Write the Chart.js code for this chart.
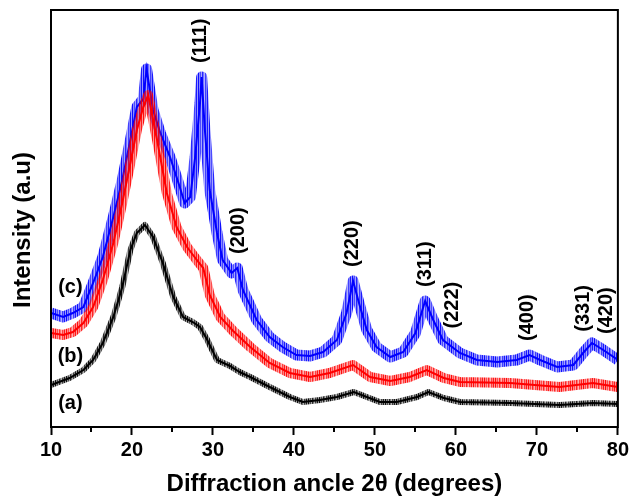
<!DOCTYPE html>
<html>
<head>
<meta charset="utf-8">
<script src="https://cdn.jsdelivr.net/npm/chart.js@4.4.1/dist/chart.umd.min.js"></script>
<style>
  html, body { margin: 0; background: #fff; }
  #wrap { width: 632px; height: 503px; }
</style>
</head>
<body>
<div id="wrap"><canvas id="xrd"></canvas></div>
<script>
// XRD patterns, intensity in arbitrary units (0 = baseline of the frame)
var angleA = [10, 12.3, 14, 15.2, 16.4, 17.7, 18.8, 19.8, 20.6, 21.6, 22.6, 23.8, 25.1, 26.3, 27.5, 28.4, 29.3, 30.5, 32.1, 33.3, 34.6, 37, 39.5, 41.1, 43.2, 45.3, 47.4, 49, 50.6, 52.7, 55.2, 56.6, 58.5, 60.5, 66.7, 72.8, 76.9, 80];
var countsA = [42, 49, 57, 67, 84, 110, 140, 177, 194, 202, 190, 164, 130, 110, 105, 100, 87, 67, 61, 55, 50, 40, 30, 25, 27, 30, 35, 30, 25, 25, 30, 35, 29, 25, 24, 22, 24, 23];

var angleB = [10, 11.5, 12.7, 14, 15.2, 16.4, 17.7, 18.8, 19.8, 20.6, 21.4, 22, 23.1, 24.3, 25.5, 26.8, 28, 28.8, 29.6, 30.9, 32.5, 34.6, 37, 39.5, 42, 44.4, 47.3, 49.4, 51.9, 54.3, 56.4, 58.5, 60.5, 66.7, 72.8, 76.9, 80];
var countsB = [94, 92, 95, 104, 120, 147, 184, 224, 264, 297, 320, 332, 287, 234, 200, 180, 167, 159, 132, 110, 96, 80, 64, 54, 50, 54, 62, 50, 46, 50, 57, 49, 45, 44, 40, 44, 40];

var angleC = [10, 11.5, 12.7, 14, 15.2, 16.4, 17.7, 18.8, 19.8, 20.6, 21.4, 21.8, 22.6, 23.5, 24.7, 25.9, 26.5, 27.2, 27.8, 28.4, 28.6, 29, 29.6, 30.5, 31.2, 32.3, 33, 33.7, 35.4, 37, 38.6, 40.3, 42, 43.6, 45.3, 46.5, 47.3, 48.1, 49, 50.2, 51.9, 53.5, 55, 56.2, 57.2, 58.4, 60.5, 62.6, 65.1, 67.5, 69.1, 70.4, 72.5, 74.5, 75.7, 76.8, 78.2, 80];
var countsC = [114, 110, 114, 120, 144, 170, 210, 247, 287, 320, 328, 358, 317, 294, 270, 240, 224, 230, 270, 324, 350, 297, 237, 194, 167, 154, 159, 137, 107, 90, 80, 72, 71, 75, 87, 114, 146, 122, 97, 80, 70, 75, 94, 126, 107, 87, 74, 67, 65, 67, 72, 67, 60, 62, 74, 84, 77, 67];

var peakAngles = [28.5, 33.1, 47.2, 56.2, 59.6, 68.8, 75.7, 78.6];
var peakLabels = ['(111)', '(200)', '(220)', '(311)', '(222)', '(400)', '(331)', '(420)'];

var FONT = "'Liberation Sans', Arial, sans-serif";

function toPoints(xs, ys) {
    return xs.map(function (x, i) { return { x: x, y: ys[i] }; });
}

// uneven vertical stripes so the thick band reads like a noisy trace
var STRIPES = [0.95, 0.45, 0.7, 0.35, 0.85, 0.55, 0.3, 0.75, 0.5, 0.9, 0.4];
function hatch(r, g, b) {
    var c = document.createElement('canvas');
    c.width = STRIPES.length; c.height = 1;
    var g2 = c.getContext('2d');
    STRIPES.forEach(function (a, i) {
        g2.fillStyle = 'rgba(' + r + ',' + g + ',' + b + ',' + a + ')';
        g2.fillRect(i, 0, 1, 1);
    });
    return g2.createPattern(c, 'repeat');
}

function band(label, xs, ys, r, g, b, width, order) {
    return {
        label: label,
        data: toPoints(xs, ys),
        borderColor: hatch(r, g, b),
        borderWidth: width,
        borderJoinStyle: 'round',
        tension: 0,
        pointRadius: 0,
        order: order
    };
}

function core(label, xs, ys, color, order) {
    return {
        label: label,
        data: toPoints(xs, ys),
        borderColor: color,
        borderWidth: 2,
        tension: 0,
        pointRadius: 0,
        order: order
    };
}

// value of a series between sampled angles
function valueAt(xs, ys, x) {
    for (var i = 1; i < xs.length; i++) {
        if (x <= xs[i]) {
            var t = (x - xs[i - 1]) / (xs[i] - xs[i - 1]);
            return ys[i - 1] + t * (ys[i] - ys[i - 1]);
        }
    }
    return ys[ys.length - 1];
}

function maxNear(xs, ys, x, w) {
    var m = Math.max(valueAt(xs, ys, x - w), valueAt(xs, ys, x + w));
    xs.forEach(function (a, i) { if (a >= x - w && a <= x + w) m = Math.max(m, ys[i]); });
    return m;
}

var decorations = {
    id: 'decorations',
    afterDraw: function (chart) {
        var ctx = chart.ctx, area = chart.chartArea;
        var xs = chart.scales.x, ys = chart.scales.y;
        ctx.save();
        // frame
        ctx.strokeStyle = '#000';
        ctx.lineWidth = 2;
        ctx.strokeRect(area.left, area.top, area.right - area.left, area.bottom - area.top);
        // minor ticks
        for (var m = 15; m < 80; m += 10) {
            var px = Math.round(xs.getPixelForValue(m));
            ctx.beginPath();
            ctx.moveTo(px, area.bottom);
            ctx.lineTo(px, area.bottom + 5);
            ctx.stroke();
        }
        ctx.fillStyle = '#000';
        // y axis title, sitting a little below the middle of the frame
        ctx.font = 'bold 24px ' + FONT;
        ctx.textAlign = 'center';
        ctx.textBaseline = 'middle';
        ctx.save();
        ctx.translate(23, 230);
        ctx.rotate(-Math.PI / 2);
        ctx.fillText('Intensity (a.u)', 0, 0);
        ctx.restore();
        // reflection indices above the (c) trace
        ctx.font = 'bold 20px ' + FONT;
        ctx.textAlign = 'left';
        peakAngles.forEach(function (a, i) {
            var top = maxNear(angleC, countsC, a, 0.8);
            var x = xs.getPixelForValue(a);
            var y = ys.getPixelForValue(top) - 14;
            ctx.save();
            ctx.translate(x, y);
            ctx.rotate(-Math.PI / 2);
            ctx.fillText(peakLabels[i], 0, 0);
            ctx.restore();
        });
        // curve tags
        ctx.textAlign = 'center';
        var tx = xs.getPixelForValue(12.4);
        ctx.fillText('(c)', tx, ys.getPixelForValue(valueAt(angleC, countsC, 12.4)) - 27);
        ctx.fillText('(b)', tx, ys.getPixelForValue(valueAt(angleB, countsB, 12.4)) + 24);
        ctx.fillText('(a)', tx, ys.getPixelForValue(valueAt(angleA, countsA, 12.4)) + 26);
        ctx.restore();
    }
};

new Chart(document.getElementById('xrd'), {
    type: 'line',
    data: {
        datasets: [
            band('(c) band', angleC, countsC, 0, 0, 255, 11, 6),
            core('(c)', angleC, countsC, '#0000ff', 5),
            band('(b) band', angleB, countsB, 255, 0, 0, 10, 4),
            core('(b)', angleB, countsB, '#ff0000', 3),
            band('(a) band', angleA, countsA, 0, 0, 0, 6, 2),
            core('(a)', angleA, countsA, '#000000', 1)
        ]
    },
    options: {
        responsive: true,
        maintainAspectRatio: false,
        animation: false,
        layout: { padding: { top: 10, right: 14, left: 51, bottom: 0 } },
        plugins: {
            legend: { display: false },
            tooltip: { enabled: false }
        },
        scales: {
            x: {
                type: 'linear',
                min: 10,
                max: 80,
                afterFit: function (s) { s.height = 76; },
                grid: { display: true, drawOnChartArea: false, drawTicks: true, tickLength: 8, tickWidth: 2, tickColor: '#000' },
                border: { display: false },
                ticks: { stepSize: 10, color: '#000', padding: 3, maxRotation: 0, font: { family: FONT, size: 20, weight: 'bold' } },
                title: { display: true, text: 'Diffraction ancle 2θ (degrees)', color: '#000', padding: { top: 0, bottom: 4 }, font: { family: FONT, size: 24, weight: 'bold' } }
            },
            y: {
                display: false,
                min: 0,
                max: 417
            }
        }
    },
    plugins: [decorations]
});
</script>
</body>
</html>
